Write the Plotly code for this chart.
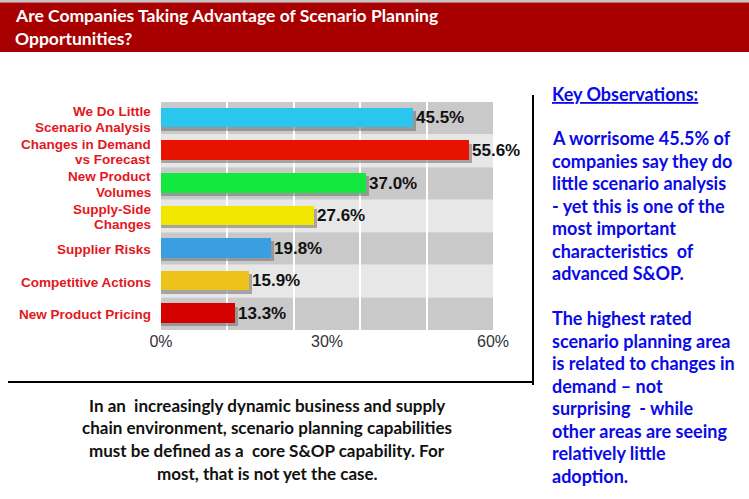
import plotly.graph_objects as go

# ---------------- data ----------------
categories = [
    "We Do Little<br>Scenario Analysis",
    "Changes in Demand<br>vs Forecast",
    "New Product<br>Volumes",
    "Supply-Side<br>Changes",
    "Supplier Risks",
    "Competitive Actions",
    "New Product Pricing",
]
values = [45.5, 55.6, 37.0, 27.6, 19.8, 15.9, 13.3]
value_labels = ["45.5%", "55.6%", "37.0%", "27.6%", "19.8%", "15.9%", "13.3%"]
x_tickvals = [0, 30, 60]
x_ticktext = ["0%", "30%", "60%"]

title_lines = ["Are Companies Taking Advantage of Scenario Planning", "Opportunities?"]
key_title = "Key Observations:"
key_lines = [
    "A worrisome 45.5% of",
    "companies say they do",
    "little scenario analysis",
    "- yet this is one of the",
    "most important",
    "characteristics  of",
    "advanced S&OP.",
    "",
    "The highest rated",
    "scenario planning area",
    "is related to changes in",
    "demand \u2013 not",
    "surprising  - while",
    "other areas are seeing",
    "relatively little",
    "adoption.",
]
bottom_lines = [
    "In an  increasingly dynamic business and supply",
    "chain environment, scenario planning capabilities",
    "must be defined as a  core S&OP capability. For",
    "most, that is not yet the case.",
]

bar_colors = ["#2BC6EE", "#E81200", "#12E83E", "#F2E500", "#3A9FE2", "#EDC21A", "#D40000"]
band_colors = ["#C9C9C9", "#E7E7E7"]

# ---------------- layout geometry (pixels) ----------------
W, H = 749, 499
L, R, T, B = 161, 493, 102, 330


def xp(px):
    return (px - L) / (R - L)


def yp(py):
    return (B - py) / (B - T)


fig = go.Figure()
idx = list(range(len(values)))

# shadow
fig.add_trace(go.Bar(
    y=idx, x=[v + 0.6 for v in values], orientation="h",
    width=0.6, offset=-0.22, marker=dict(color="rgba(110,110,110,0.55)", line=dict(width=0)),
    hoverinfo="skip", showlegend=False,
))
# bars
fig.add_trace(go.Bar(
    y=idx, x=values, orientation="h",
    width=0.6, offset=-0.32,
    marker=dict(color=bar_colors, line=dict(width=0)),
    text=["<b>%s</b>" % t for t in value_labels], textposition="outside",
    textfont=dict(family="Arial", size=17, color="#111111"),
    cliponaxis=False, showlegend=False,
))

shapes = []
# row bands
for i in idx:
    shapes.append(dict(type="rect", xref="paper", yref="y", x0=0, x1=1,
                       y0=i - 0.5, y1=i + 0.5, fillcolor=band_colors[i % 2],
                       line=dict(width=0), layer="below"))
# top gray line and title banner
shapes.append(dict(type="rect", xref="paper", yref="paper", x0=xp(0), x1=xp(W),
                   y0=yp(0), y1=yp(2.5), fillcolor="#C4C4C4", line=dict(width=0)))
shapes.append(dict(type="rect", xref="paper", yref="paper", x0=xp(0), x1=xp(W),
                   y0=yp(2.5), y1=yp(52), fillcolor="#A80000", line=dict(width=0)))
# divider lines
shapes.append(dict(type="line", xref="paper", yref="paper", x0=xp(533), x1=xp(533),
                   y0=yp(95), y1=yp(385), line=dict(color="#000000", width=2)))
shapes.append(dict(type="line", xref="paper", yref="paper", x0=xp(8), x1=xp(533),
                   y0=yp(382), y1=yp(382), line=dict(color="#000000", width=2)))

annotations = []
# category labels (one annotation per text line for tight spacing)
for i, cat in enumerate(categories):
    parts = cat.split("<br>")
    n = len(parts)
    for k, part in enumerate(parts):
        annotations.append(dict(text="<b>%s</b>" % part, x=xp(153), y=i, xref="paper", yref="y",
                                xanchor="right", yanchor="middle", showarrow=False,
                                yshift=-1 - (k - (n - 1) / 2) * 15.5,
                                font=dict(family="Arial", size=13.5, color="#E3171E")))
# title
for i, line in enumerate(title_lines):
    annotations.append(dict(text="<b>%s</b>" % line, x=xp(13), y=yp(15 + i * 24),
                            xref="paper", yref="paper", xanchor="left", yanchor="middle",
                            showarrow=False,
                            font=dict(family="Lato", size=17.5, color="#FFFFFF")))
# key observations
annotations.append(dict(text="<b><u>%s</u></b>" % key_title, x=xp(550), y=yp(94),
                        xref="paper", yref="paper", xanchor="left", yanchor="middle",
                        showarrow=False, font=dict(family="Lato", size=18, color="#0A0AE6")))
for i, line in enumerate(key_lines):
    if not line:
        continue
    annotations.append(dict(text="<b>%s</b>" % line, x=xp(550), y=yp(138 + i * 22.5),
                            xref="paper", yref="paper", xanchor="left", yanchor="middle",
                            showarrow=False, font=dict(family="Lato", size=18, color="#0A0AE6")))
# bottom text
for i, line in enumerate(bottom_lines):
    annotations.append(dict(text="<b>%s</b>" % line, x=xp(267), y=yp(405 + i * 22.7),
                            xref="paper", yref="paper", xanchor="center", yanchor="middle",
                            showarrow=False, font=dict(family="Lato", size=17, color="#111111")))

fig.update_layout(
    width=W, height=H,
    margin=dict(l=L, r=W - R, t=T, b=H - B, pad=0),
    paper_bgcolor="#FFFFFF", plot_bgcolor="#FFFFFF",
    barmode="overlay", bargap=0,
    shapes=shapes, annotations=annotations,
    xaxis=dict(range=[0, 60], tickvals=x_tickvals, ticktext=x_ticktext,
               showgrid=False, zeroline=False, showline=False, ticks="",
               tickfont=dict(family="Arial", size=16, color="#333333"),
               minor=dict(dtick=12, tick0=0, showgrid=True, gridcolor="#FFFFFF", gridwidth=1.5),
               fixedrange=True),
    yaxis=dict(tickvals=idx, ticktext=[""] * len(idx),
               range=[len(values) - 0.5, -0.5], showgrid=False, zeroline=False,
               showline=False, ticks="", showticklabels=False,
               fixedrange=True),
)

fig.write_html("out.html")
